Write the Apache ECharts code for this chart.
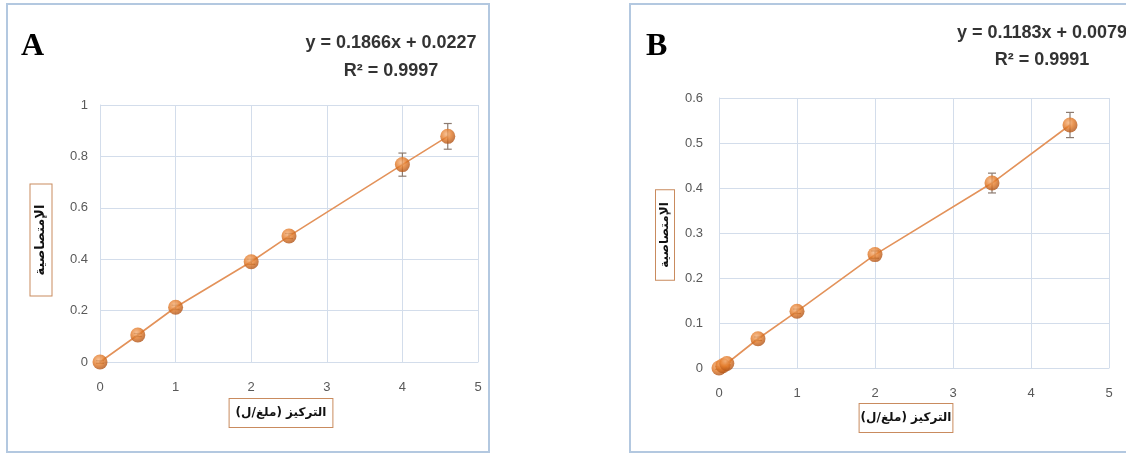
<!DOCTYPE html>
<html>
<head>
<meta charset="utf-8">
<script src="https://cdn.jsdelivr.net/npm/echarts@6/dist/echarts.min.js"></script>
<style>
html,body{margin:0;padding:0;background:#fff;}
#c{width:1126px;height:457px;}
</style>
</head>
<body>
<div id="c"></div>
<script>
// ---- Panel A data ----
const xA = [0, 0.5, 1, 2, 2.5, 4, 4.6];
const yA = [0, 0.105, 0.213, 0.39, 0.49, 0.768, 0.878];
const errA = [0.005, 0.006, 0.008, 0.01, 0.01, 0.045, 0.05];
const eqA = ['y = 0.1866x + 0.0227', 'R² = 0.9997'];
// ---- Panel B data ----
const xB = [0, 0.05, 0.1, 0.5, 1, 2, 3.5, 4.5];
const yB = [0, 0.005, 0.01, 0.065, 0.126, 0.252, 0.411, 0.540];
const errB = [0.003, 0.003, 0.003, 0.004, 0.005, 0.008, 0.022, 0.028];
const eqB = ['y = 0.1183x + 0.0079', 'R² = 0.9991'];
// ---- labels ----
const panelLabels = ['A', 'B'];
const xTitle = 'التركيز (ملغ/ل)';
const yTitle = 'الإمتصاصية';

const gridColor = '#D3DDEB';
const tickColor = '#595959';
const boxColor = '#C98B5E';

const markerColor = {
  type: 'radial', x: 0.4, y: 0.35, r: 0.7,
  colorStops: [
    {offset: 0, color: '#F6B27A'},
    {offset: 0.5, color: '#E37A28'},
    {offset: 1, color: '#A84E15'}
  ]
};

function pairs(xs, ys){ return xs.map((x,i)=>[x, ys[i]]); }
function errData(xs, ys, es){ return xs.map((x,i)=>[x, ys[i]-es[i], ys[i]+es[i]]); }

function errRender(params, api){
  const x = api.value(0);
  const top = api.coord([x, api.value(2)]);
  const bot = api.coord([x, api.value(1)]);
  const w = 4;
  const st = {stroke: '#8C7B70', lineWidth: 1.2};
  return {type: 'group', children: [
    {type:'line', shape:{x1:top[0], y1:top[1], x2:bot[0], y2:bot[1]}, style: st},
    {type:'line', shape:{x1:top[0]-w, y1:top[1], x2:top[0]+w, y2:top[1]}, style: st},
    {type:'line', shape:{x1:bot[0]-w, y1:bot[1], x2:bot[0]+w, y2:bot[1]}, style: st}
  ]};
}

function xAxisCfg(gi){
  return {
    type: 'value', gridIndex: gi, min: 0, max: 5, interval: 1,
    axisLine: {show: true, lineStyle: {color: gridColor}},
    axisTick: {show: false},
    splitLine: {show: true, lineStyle: {color: gridColor, width: 1}},
    axisLabel: {color: tickColor, fontSize: 13, fontFamily: 'Liberation Sans', margin: 19}
  };
}
function yAxisCfg(gi, max, interval, margin){
  return {
    type: 'value', gridIndex: gi, min: 0, max: max, interval: interval,
    axisLine: {show: true, lineStyle: {color: gridColor}},
    axisTick: {show: false},
    splitLine: {show: true, lineStyle: {color: gridColor, width: 1}},
    axisLabel: {color: tickColor, fontSize: 13, fontFamily: 'Liberation Sans', margin: margin}
  };
}

function seriesFor(gi, xs, ys, es){
  return [
    {type: 'line', xAxisIndex: gi, yAxisIndex: gi, data: pairs(xs, ys),
     symbol: 'none', lineStyle: {color: '#E3925A', width: 1.6}, z: 2, silent: true},
    {type: 'custom', xAxisIndex: gi, yAxisIndex: gi, data: errData(xs, ys, es),
     renderItem: errRender, z: 3, silent: true},
    {type: 'scatter', xAxisIndex: gi, yAxisIndex: gi, data: pairs(xs, ys),
     symbolSize: 15, itemStyle: {color: markerColor}, z: 4, silent: true}
  ];
}

function eqText(lines, cx, y1, y2){
  const st = {fill: '#333', font: 'bold 18px "Liberation Sans", sans-serif', align: 'center', verticalAlign: 'middle'};
  return [
    {type: 'text', x: cx, y: y1, style: Object.assign({text: lines[0]}, st)},
    {type: 'text', x: cx, y: y2, style: Object.assign({text: lines[1]}, st)}
  ];
}

function boxTitle(text, cx, cy, rot, fontSize, pad){
  return {
    type: 'text', x: cx, y: cy, rotation: rot, z: 10,
    style: {
      text: text, fill: '#111', font: 'bold ' + fontSize + 'px "DejaVu Sans", sans-serif',
      align: 'center', verticalAlign: 'middle',
      borderColor: boxColor, borderWidth: 1, padding: pad, backgroundColor: '#fff'
    }
  };
}

const chart = echarts.init(document.getElementById('c'), null, {renderer: 'canvas'});
chart.setOption({
  animation: false,
  backgroundColor: '#fff',
  grid: [
    {left: 100, top: 105, width: 378, height: 257},
    {left: 719, top: 98, width: 390, height: 270}
  ],
  xAxis: [xAxisCfg(0), xAxisCfg(1)],
  yAxis: [yAxisCfg(0, 1, 0.2, 12), yAxisCfg(1, 0.6, 0.1, 16)],
  series: [].concat(seriesFor(0, xA, yA, errA), seriesFor(1, xB, yB, errB)),
  graphic: [
    {type: 'rect', shape: {x: 7, y: 4, width: 482, height: 448}, style: {fill: 'none', stroke: '#B3C8E0', lineWidth: 2}, z: -1},
    {type: 'rect', shape: {x: 630, y: 4, width: 510, height: 448}, style: {fill: 'none', stroke: '#B3C8E0', lineWidth: 2}, z: -1},
    {type: 'text', x: 21, y: 47, style: {text: panelLabels[0], fill: '#000', font: 'bold 32px "Liberation Serif", serif', verticalAlign: 'middle'}},
    {type: 'text', x: 646, y: 47, style: {text: panelLabels[1], fill: '#000', font: 'bold 32px "Liberation Serif", serif', verticalAlign: 'middle'}},
    boxTitle(xTitle, 281, 413, 0, 12, [8, 6, 8, 6]),
    boxTitle(xTitle, 906, 418, 0, 12, [8, 1, 8, 1]),
    boxTitle(yTitle, 41, 240, Math.PI / 2, 13, [4, 20, 4, 20]),
    boxTitle(yTitle, 665, 235, Math.PI / 2, 12, [3, 12, 3, 12])
  ].concat(eqText(eqA, 391, 43, 71), eqText(eqB, 1042, 33, 60))
});
</script>
</body>
</html>
